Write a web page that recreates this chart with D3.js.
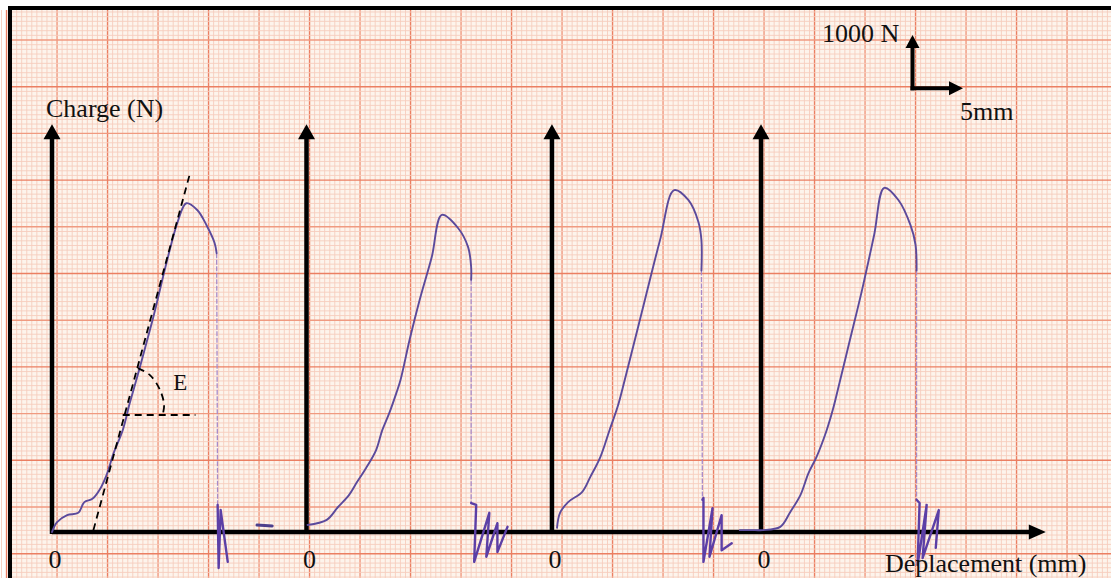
<!DOCTYPE html>
<html>
<head>
<meta charset="utf-8">
<script src="https://cdn.jsdelivr.net/npm/d3@7"></script>
<style>
  body { margin: 0; background: #fff; }
  svg { display: block; }
  text { font-family: "Liberation Serif", "Times New Roman", serif; fill: #111; }
</style>
</head>
<body>
<svg id="chart" width="1111" height="578"></svg>
<script>
// load (N) vs displacement (mm), each specimen from its own zero
var disp1 = [0, 0.5, 1.5, 2.6, 3.2, 4.0, 4.7, 5.4, 6.1, 7.0, 7.7, 8.7, 9.7, 10.2, 11.4, 12.5, 13.3, 14.4, 15.3, 16.1, 16.3]
var load1 = [0, 210, 360, 410, 640, 710, 900, 1220, 1690, 2180, 2760, 3530, 4330, 4750, 5820, 6680, 7040, 6890, 6570, 6190, 5970]
var tailDisp1 = [16.4, 16.5, 16.7, 17.4]
var tailLoad1 = [580, -770, 470, -640]

var disp2 = [0.1, 2.0, 3.1, 4.2, 5.0, 5.9, 6.9, 7.5, 8.2, 8.9, 9.3, 10.2, 11.2, 12.4, 13.4, 15.0, 16.0, 16.3, 16.3]
var load2 = [150, 260, 530, 790, 1070, 1370, 1760, 2180, 2550, 2980, 3250, 4110, 4970, 5890, 6790, 6510, 6100, 5670, 5400]
var tailDisp2 = [16.3, 16.8, 16.6, 18.1, 17.8, 18.9, 18.9, 19.9]
var tailLoad2 = [620, 580, -640, 410, -530, 190, -430, 110]
var strayDisp2 = [-4.9, -3.4]
var strayLoad2 = [150, 130]

var disp3 = [0.5, 0.8, 1.6, 3.0, 3.8, 4.8, 5.7, 6.5, 7.2, 9.2, 10.7, 12.1, 13.5, 14.5, 14.8, 14.8]
var load3 = [90, 410, 640, 860, 1180, 1610, 2180, 2680, 3250, 4970, 6250, 7320, 7110, 6640, 6250, 5600]
var tailDisp3 = [14.9, 15.0, 15.0, 15.9, 15.6, 16.8, 16.8, 17.8]
var tailLoad3 = [690, 730, -640, 510, -530, 360, -390, -240]

var disp4 = [-2.1, -0.6, 0.2, 1.9, 2.9, 3.9, 4.7, 5.5, 6.5, 7.1, 7.6, 8.8, 10.0, 11.2, 12.2, 13.6, 14.8, 15.3, 15.4]
var load4 = [40, 40, 40, 110, 430, 790, 1260, 1610, 2180, 2610, 3040, 4110, 5180, 6360, 7370, 7110, 6570, 6150, 5600]
var tailDisp4 = [15.4, 15.7, 15.5, 16.4, 16.0, 17.6, 17.3]
var tailLoad4 = [690, 620, -710, 580, -560, 470, -340]

// construction lines on the first curve (modulus E)
var tangentDisp = [4.1, 13.7]
var tangentLoad = [40, 7710]
var baseDisp = [7.0, 14.2]
var baseLoad = [2505, 2505]
var arcDisp = [8.5, 9.7, 10.7, 11.1, 11.0]
var arcLoad = [3510, 3360, 3040, 2720, 2550]

var zeroLabels = ["0", "0", "0", "0"]

// layout
var width = 1111, height = 578
var origins = [0, 25.2, 49.5, 70.2]       // where each specimen's zero sits on the sheet (mm)
var axisTop = 8730, axisEnd = 98.4

var svg = d3.select("#chart")

var x = d3.scaleLinear().domain([0, 10]).range([52, 153])
var y = d3.scaleLinear().domain([0, 1000]).range([532, 485.3])

// ---- recorder paper ----
svg.append("rect")
  .attr("x", 8).attr("y", 6).attr("width", width - 8).attr("height", height - 6)
  .attr("fill", "#fdf4ec")

var paper = svg.append("g").attr("class", "paper")

function gridColor(k, boldOdd) {
    if (k % 10 === 0 && boldOdd) return "#eb7f62"
    if (k % 10 === 0) return "#f09a80"
    return "#f6cdbd"
}

var vLines = d3.range(-87, 212).map(k => 0.5 + k * 0.5)
paper.selectAll("line.v")
  .data(vLines)
  .enter().append("line")
  .attr("x1", d => x(d)).attr("x2", d => x(d))
  .attr("y1", 10).attr("y2", height)
  .attr("stroke", d => {
      var k = Math.round((d - 0.5) / 0.5)
      return gridColor(k, Math.abs(k % 20) === 10)
  })
  .attr("stroke-width", d => {
      var k = Math.round((d - 0.5) / 0.5)
      return k % 10 === 0 ? 1.4 : 0.9
  })

var hLines = d3.range(-16, 107).map(k => 535 + k * 100)
paper.selectAll("line.h")
  .data(hLines)
  .enter().append("line")
  .attr("y1", d => y(d)).attr("y2", d => y(d))
  .attr("x1", 12).attr("x2", width)
  .attr("stroke", d => {
      var k = Math.round((d - 535) / 100)
      return gridColor(k, Math.abs(Math.round(k / 10) % 2) === 1)
  })
  .attr("stroke-width", d => {
      var k = Math.round((d - 535) / 100)
      return k % 10 === 0 ? 1.4 : 0.9
  })

// sheet frame
svg.append("line").attr("x1", 8).attr("x2", width).attr("y1", 8).attr("y2", 8)
  .attr("stroke", "#000").attr("stroke-width", 4)
svg.append("line").attr("x1", 10).attr("x2", 10).attr("y1", 6).attr("y2", height)
  .attr("stroke", "#000").attr("stroke-width", 4)

// ---- axes ----
var axes = svg.append("g").attr("class", "axes")

function arrowUp(g, px, py, w, h) {
    g.append("path")
      .attr("d", "M" + px + "," + py + "L" + (px - w / 2) + "," + (py + h) + "L" + (px + w / 2) + "," + (py + h) + "Z")
      .attr("fill", "#000")
}
function arrowRight(g, px, py, w, h) {
    g.append("path")
      .attr("d", "M" + px + "," + py + "L" + (px - h) + "," + (py - w / 2) + "L" + (px - h) + "," + (py + w / 2) + "Z")
      .attr("fill", "#000")
}

axes.append("line")
  .attr("x1", x(0)).attr("x2", x(axisEnd) - 12)
  .attr("y1", y(0)).attr("y2", y(0))
  .attr("stroke", "#000").attr("stroke-width", 4.5)
arrowRight(axes, x(axisEnd), y(0), 15, 17)

origins.forEach(o => {
    axes.append("line")
      .attr("x1", x(o)).attr("x2", x(o))
      .attr("y1", y(0) + 2).attr("y2", y(axisTop) + 12)
      .attr("stroke", "#000").attr("stroke-width", 4.5)
    arrowUp(axes, x(o), y(axisTop), 17, 15)
})

// scale arrows: 1000 N up, 5 mm across
var scaleD = 85.2, scaleF = 9500
axes.append("line")
  .attr("x1", x(scaleD)).attr("x2", x(scaleD))
  .attr("y1", y(scaleF) + 2).attr("y2", y(scaleF + 1000) - 2)
  .attr("stroke", "#000").attr("stroke-width", 4)
arrowUp(axes, x(scaleD), y(scaleF + 1140), 14, 13)
axes.append("line")
  .attr("x1", x(scaleD) - 2).attr("x2", x(scaleD + 5) - 8)
  .attr("y1", y(scaleF)).attr("y2", y(scaleF))
  .attr("stroke", "#000").attr("stroke-width", 4)
arrowRight(axes, x(scaleD + 5), y(scaleF), 14, 14)

// ---- curves ----
var specimens = [
    {origin: origins[0], disp: disp1, load: load1, tailDisp: tailDisp1, tailLoad: tailLoad1},
    {origin: origins[1], disp: disp2, load: load2, tailDisp: tailDisp2, tailLoad: tailLoad2},
    {origin: origins[2], disp: disp3, load: load3, tailDisp: tailDisp3, tailLoad: tailLoad3},
    {origin: origins[3], disp: disp4, load: load4, tailDisp: tailDisp4, tailLoad: tailLoad4}
]

function pts(o, ds, fs) { return ds.map((d, i) => [x(o + d), y(fs[i])]) }

var smooth = d3.line().curve(d3.curveCatmullRom.alpha(0.5))
var sharp = d3.line()

var curves = svg.append("g").attr("class", "curves")

specimens.forEach(s => {
    var main = pts(s.origin, s.disp, s.load)
    var tail = pts(s.origin, s.tailDisp, s.tailLoad)
    // faint pen trace of the drop after rupture
    curves.append("path")
      .attr("d", sharp([main[main.length - 1], tail[0]]))
      .attr("fill", "none").attr("stroke", "#a88bc8").attr("stroke-width", 1.3)
      .attr("stroke-dasharray", "5,1.5")
    curves.append("path")
      .attr("d", smooth(main))
      .attr("fill", "none").attr("stroke", "#5b4a9c").attr("stroke-width", 1.9)
      .attr("stroke-linejoin", "round").attr("stroke-linecap", "round")
    curves.append("path")
      .attr("d", sharp(tail))
      .attr("fill", "none").attr("stroke", "#5c3fa6").attr("stroke-width", 2.4)
      .attr("stroke-linejoin", "round").attr("stroke-linecap", "round")
})

curves.append("path")
  .attr("d", sharp(pts(origins[1], strayDisp2, strayLoad2)))
  .attr("fill", "none").attr("stroke", "#4d3f8c").attr("stroke-width", 3)
  .attr("stroke-linecap", "round")

// construction for E on the first specimen
var constr = svg.append("g").attr("class", "construction")
constr.append("path")
  .attr("d", sharp(pts(origins[0], tangentDisp, tangentLoad)))
  .attr("fill", "none").attr("stroke", "#000").attr("stroke-width", 1.8)
  .attr("stroke-dasharray", "7,5")
constr.append("path")
  .attr("d", sharp(pts(origins[0], baseDisp, baseLoad)))
  .attr("fill", "none").attr("stroke", "#000").attr("stroke-width", 1.8)
  .attr("stroke-dasharray", "7,5")
constr.append("path")
  .attr("d", smooth(pts(origins[0], arcDisp, arcLoad)))
  .attr("fill", "none").attr("stroke", "#000").attr("stroke-width", 1.8)
  .attr("stroke-dasharray", "7,5")
constr.append("text")
  .attr("x", x(12.0)).attr("y", y(3040))
  .attr("font-size", "23px")
  .text("E")

// ---- labels ----
var labels = svg.append("g").attr("class", "labels").attr("font-size", "26px")

labels.selectAll("text.zero")
  .data(zeroLabels)
  .enter().append("text")
  .attr("x", (d, i) => x(origins[i]) + 3)
  .attr("y", 568)
  .attr("text-anchor", "middle")
  .text(d => d)

labels.append("text").attr("x", 46).attr("y", 117).text("Charge (N)")
labels.append("text").attr("x", 885).attr("y", 572).text("Déplacement (mm)")
labels.append("text").attr("x", 822).attr("y", 42).text("1000 N")
labels.append("text").attr("x", 960).attr("y", 120).text("5mm")
</script>
</body>
</html>
